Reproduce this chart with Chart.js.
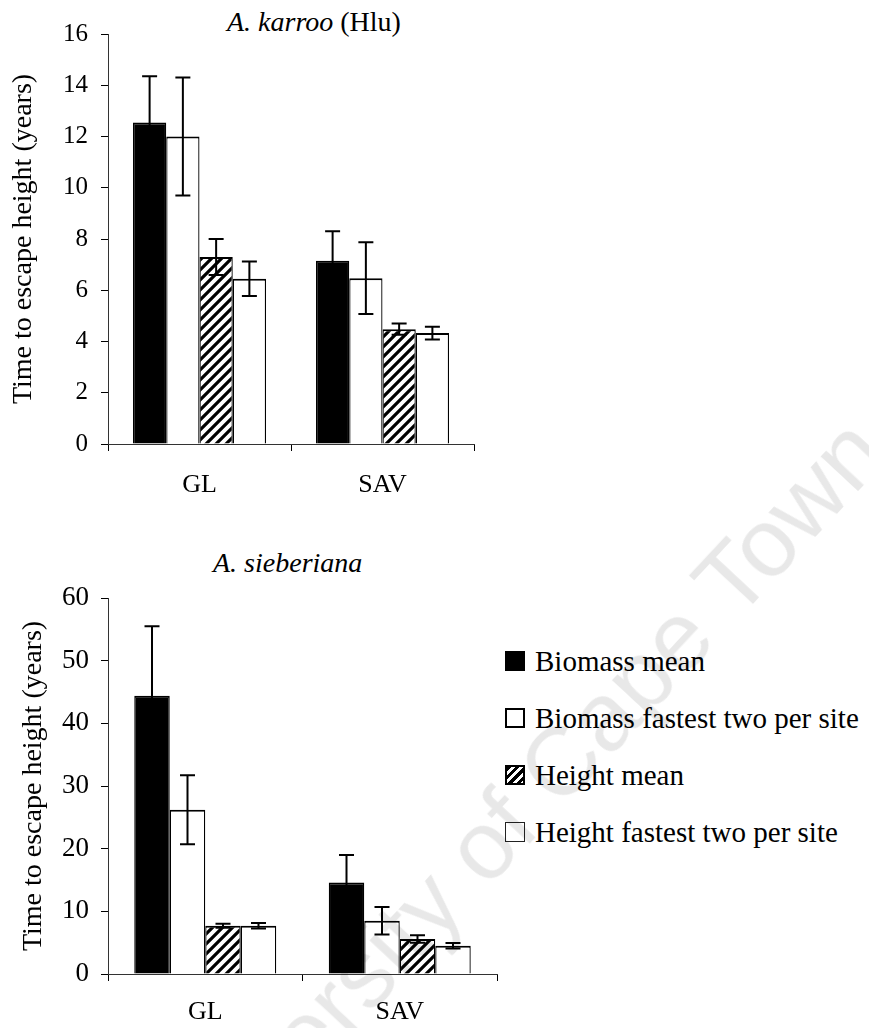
<!DOCTYPE html>
<html>
<head>
<meta charset="utf-8">
<script src="https://cdn.jsdelivr.net/npm/chart.js@4.4.1/dist/chart.umd.min.js"></script>
<style>
  body { margin: 0; background: #fff; width: 869px; height: 1028px; overflow: hidden; position: relative;
         font-family: "Liberation Serif", "Times New Roman", serif; color: #000; }
  canvas { position: absolute; left: 0; }
  .ttl { position: absolute; white-space: nowrap; }
  .row { position: absolute; left: 505px; font-size: 29px; line-height: 29px; white-space: nowrap; }
  .sw { display: inline-block; width: 20px; height: 20px; box-sizing: border-box; margin-right: 10px; }
  .mark { position: absolute; left: 510px; top: 816px; transform: translate(-50%, -50%) rotate(-47deg);
          font-family: "Liberation Sans", Arial, sans-serif; font-size: 97px; color: rgba(0,0,0,0.09);
          white-space: nowrap; pointer-events: none; }
</style>
</head>
<body>
<div class="ttl" style="left:227px; top:8px; font-size:28px; line-height:28px;"><i>A. karroo</i> (Hlu)</div>
<canvas id="karroo" width="480" height="510" style="top:0"></canvas>
<div class="ttl" style="left:213px; top:549px; font-size:28px; line-height:28px;"><i>A. sieberiana</i></div>
<canvas id="sieberiana" width="505" height="488" style="top:540px"></canvas>
<div id="legend"></div>
<div class="mark">University of Cape Town</div>
<script>
// sites on the x axis
var sites = ["GL", "SAV"];
var seriesNames = ["Biomass mean", "Biomass fastest two per site", "Height mean", "Height fastest two per site"];

// A. karroo (Hlu), years, with standard errors
var karrooBiomassMean = [12.55, 7.15];
var karrooBiomassMeanErr = [1.8, 1.15];
var karrooBiomassFast = [12.0, 6.47];
var karrooBiomassFastErr = [2.3, 1.4];
var karrooHeightMean = [7.3, 4.48];
var karrooHeightMeanErr = [0.7, 0.22];
var karrooHeightFast = [6.45, 4.33];
var karrooHeightFastErr = [0.67, 0.25];

// A. sieberiana, years, with standard errors
var sieberBiomassMean = [44.4, 14.6];
var sieberBiomassMeanErr = [11.1, 4.4];
var sieberBiomassFast = [26.2, 8.5];
var sieberBiomassFastErr = [5.5, 2.2];
var sieberHeightMean = [7.7, 5.6];
var sieberHeightMeanErr = [0.3, 0.6];
var sieberHeightFast = [7.7, 4.5];
var sieberHeightFastErr = [0.45, 0.45];

var serif = "'Liberation Serif', 'Times New Roman', serif";

function hatch() {
    var c = document.createElement('canvas');
    c.width = 10; c.height = 10;
    var g = c.getContext('2d');
    g.fillStyle = '#fff';
    g.fillRect(0, 0, 10, 10);
    g.strokeStyle = '#000';
    g.lineWidth = 3.2;
    g.beginPath();
    g.moveTo(-5, 5); g.lineTo(5, -5);
    g.moveTo(0, 10); g.lineTo(10, 0);
    g.moveTo(5, 15); g.lineTo(15, 5);
    g.stroke();
    return g.createPattern(c, 'repeat');
}

var fills = ['#000', '#fff', hatch(), '#fff'];

var errorBars = {
    id: 'errorBars',
    afterDatasetsDraw: function(chart) {
        var ctx = chart.ctx, y = chart.scales.y;
        chart.data.datasets.forEach(function(ds, i) {
            chart.getDatasetMeta(i).data.forEach(function(bar, j) {
                var hi = y.getPixelForValue(ds.data[j] + ds.errors[j]);
                var lo = y.getPixelForValue(ds.data[j] - ds.errors[j]);
                ctx.save();
                ctx.strokeStyle = '#000';
                ctx.lineWidth = 2;
                ctx.beginPath();
                ctx.moveTo(bar.x, hi); ctx.lineTo(bar.x, lo);
                ctx.moveTo(bar.x - 7.5, hi); ctx.lineTo(bar.x + 7.5, hi);
                ctx.moveTo(bar.x - 7.5, lo); ctx.lineTo(bar.x + 7.5, lo);
                ctx.stroke();
                ctx.restore();
            });
        });
    }
};

function drawChart(id, values, errors, cfg) {
    var ctx = document.getElementById(id).getContext('2d');
    new Chart(ctx, {
        type: 'bar',
        data: {
            labels: sites,
            datasets: values.map(function(v, i) {
                return {
                    label: seriesNames[i],
                    data: v,
                    errors: errors[i],
                    backgroundColor: fills[i],
                    borderColor: '#000',
                    borderWidth: { top: 2, left: 1.3, right: 1.3, bottom: 0 },
                    barPercentage: 1,
                    categoryPercentage: cfg.groupWidth
                }
            })
        },
        options: {
            responsive: false,
            animation: false,
            layout: { padding: { top: cfg.top, right: cfg.right, left: 0, bottom: 0 } },
            plugins: { legend: { display: false }, tooltip: { enabled: false } },
            scales: {
                x: {
                    grid: { drawOnChartArea: false, tickLength: 7, color: '#000', offset: true },
                    border: { color: '#333', width: 1 },
                    ticks: { color: '#000', font: { family: serif, size: 26 }, padding: cfg.xPad },
                    afterFit: function(s) { s.height = cfg.xHeight }
                },
                y: {
                    min: 0,
                    max: cfg.max,
                    ticks: { stepSize: cfg.step, color: '#000', font: { family: serif, size: cfg.tickSize }, padding: cfg.yPad },
                    grid: { drawOnChartArea: false, tickLength: 7, color: '#000' },
                    border: { color: '#333', width: 1 },
                    title: {
                        display: true,
                        text: 'Time to escape height (years)',
                        color: '#000',
                        font: { family: serif, size: 28 },
                        padding: { top: cfg.titlePad, bottom: 0 }
                    },
                    afterFit: function(s) { s.width = 108 }
                }
            }
        },
        plugins: [errorBars]
    });
}

drawChart('karroo',
    [karrooBiomassMean, karrooBiomassFast, karrooHeightMean, karrooHeightFast],
    [karrooBiomassMeanErr, karrooBiomassFastErr, karrooHeightMeanErr, karrooHeightFastErr],
    { top: 34, right: 6, xHeight: 66, max: 16, step: 2, tickSize: 25, xPad: 19, yPad: 13, titlePad: 7, groupWidth: 0.727 });

drawChart('sieberiana',
    [sieberBiomassMean, sieberBiomassFast, sieberHeightMean, sieberHeightFast],
    [sieberBiomassMeanErr, sieberBiomassFastErr, sieberHeightMeanErr, sieberHeightFastErr],
    { top: 58, right: 8, xHeight: 54, max: 60, step: 10, tickSize: 27, xPad: 16, yPad: 12, titlePad: 17, groupWidth: 0.73 });

// legend, one row per series
var swatches = [
    'background:#000;',
    'background:#fff; border:2px solid #000;',
    'border:2px solid #000; background:repeating-linear-gradient(135deg, #000 0 3px, #fff 3px 6px);',
    'background:#fff; border:1.5px solid #222;'
];
var legend = document.getElementById('legend');
seriesNames.forEach(function(name, i) {
    var row = document.createElement('div');
    row.className = 'row';
    row.style.top = (647 + i * 57) + 'px';
    row.innerHTML = '<span class="sw" style="' + swatches[i] + '"></span>' + name;
    legend.appendChild(row);
});
</script>
</body>
</html>
